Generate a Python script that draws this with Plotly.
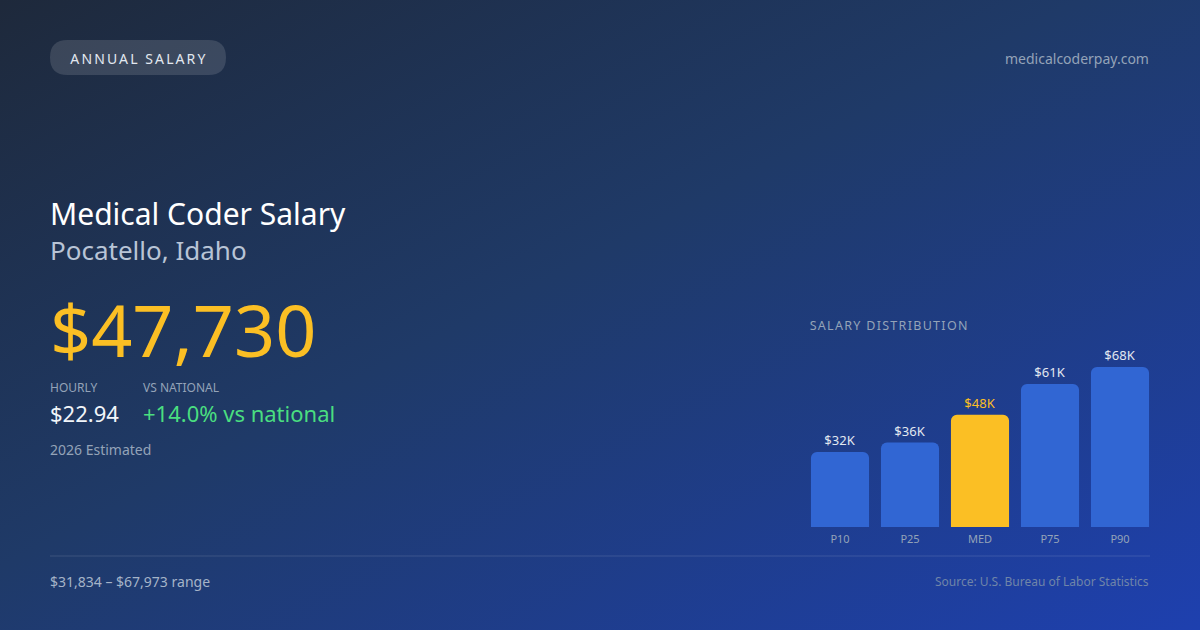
import urllib.parse
import plotly.graph_objects as go

W, H = 1200, 630
FONT = "Noto Sans"

percentiles = ["P10", "P25", "MED", "P75", "P90"]
salaries = [31834, 35900, 47730, 60800, 67973]
median_annual = 47730
hourly_wage = 22.94
vs_national_pct = 14.0
occupation = "Medical Coder Salary"
location = "Pocatello, Idaho"
year_label = "2026 Estimated"
site = "medicalcoderpay.com"
source = "Source: U.S. Bureau of Labor Statistics"

BAR_BLUE = "#3166d3"
GOLD = "#fbbf24"


def px(x):
    return x / W


def py(y):
    return 1 - y / H


bar_colors = [GOLD if p == "MED" else BAR_BLUE for p in percentiles]
label_colors = [GOLD if p == "MED" else "#e2e8f0" for p in percentiles]
bar_text = [f"${v / 1000:.0f}K" for v in salaries]

fig = go.Figure()
fig.add_trace(go.Bar(
    x=percentiles,
    y=salaries,
    marker=dict(color=bar_colors, line=dict(width=0), cornerradius=6),
    text=bar_text,
    textposition="outside",
    textfont=dict(family=FONT, size=13, color=label_colors),
    cliponaxis=False,
    hoverinfo="skip",
))

# background gradient as an svg image
grad_svg = (
    "<svg xmlns='http://www.w3.org/2000/svg' width='1200' height='630' preserveAspectRatio='none'>"
    "<defs><linearGradient id='g' x1='0' y1='0' x2='1' y2='1'>"
    "<stop offset='0' stop-color='#1e293b'/>"
    "<stop offset='0.45' stop-color='#1f3a68'/>"
    "<stop offset='1' stop-color='#1e40af'/>"
    "</linearGradient></defs>"
    "<rect width='1200' height='630' fill='url(#g)'/></svg>"
)
grad_uri = "data:image/svg+xml;charset=utf-8," + urllib.parse.quote(grad_svg)


def pill_path(x0, y0, x1, y1):
    r = (y1 - y0) / 2
    pts = [
        f"M {px(x0 + r)},{py(y0)}",
        f"L {px(x1 - r)},{py(y0)}",
        f"Q {px(x1)},{py(y0)} {px(x1)},{py(y0 + r)}",
        f"Q {px(x1)},{py(y1)} {px(x1 - r)},{py(y1)}",
        f"L {px(x0 + r)},{py(y1)}",
        f"Q {px(x0)},{py(y1)} {px(x0)},{py(y0 + r)}",
        f"Q {px(x0)},{py(y0)} {px(x0 + r)},{py(y0)}",
        "Z",
    ]
    return " ".join(pts)


shapes = [
    dict(type="path", xref="paper", yref="paper", path=pill_path(50, 40, 226, 75),
         fillcolor="rgba(255,255,255,0.13)", line=dict(width=0), layer="below"),
    dict(type="line", xref="paper", yref="paper", x0=px(50), x1=px(1150), y0=py(556), y1=py(556),
         line=dict(color="rgba(255,255,255,0.13)", width=1)),
]


def txt(x, y, s, size, color, anchor="left"):
    # annotation boxes carry ~2px of padding, nudge so the glyphs land on x
    x = x - 2 if anchor == "left" else (x + 2 if anchor == "right" else x)
    return dict(xref="paper", yref="paper", x=px(x), y=py(y), text=s, showarrow=False,
                xanchor=anchor, yanchor="middle", font=dict(family=FONT, size=size, color=color))


# the two letter-spaced labels grow both ways from their centre, so they sit a bit right
annotations = [
    txt(84, 58, "ANNUAL SALARY", 14, "#e2e8f0"),
    txt(1149, 58, site, 14, "#94a3b8", "right"),
    txt(50, 213, occupation, 30, "#ffffff"),
    txt(50, 250, location, 26, "#b8c4d6"),
    txt(50, 329, f"${median_annual:,}", 72, GOLD),
    txt(50, 387, "HOURLY", 12, "#94a3b8"),
    txt(143, 387, "VS NATIONAL", 12, "#94a3b8"),
    txt(50, 413, f"${hourly_wage:.2f}", 22, "#f1f5f9"),
    txt(143, 413, f"+{vs_national_pct:.1f}% vs national", 22, "#4ade80"),
    txt(50, 449, year_label, 14, "#94a3b8"),
    txt(822, 325, "SALARY DISTRIBUTION", 12.5, "#94a3b8"),
    txt(50, 581, f"${min(salaries):,} – ${max(salaries):,} range", 14, "#a5b4c8"),
    txt(1149, 581, source, 12, "#7085a8", "right"),
]

fig.update_layout(
    width=W, height=H,
    margin=dict(l=0, r=0, t=0, b=0),
    paper_bgcolor="#1e293b",
    plot_bgcolor="rgba(0,0,0,0)",
    showlegend=False,
    bargap=0.17,
    images=[dict(source=grad_uri, xref="paper", yref="paper", x=0, y=1, sizex=1, sizey=1,
                 xanchor="left", yanchor="top", sizing="stretch", layer="below")],
    shapes=shapes,
    annotations=annotations,
    xaxis=dict(domain=[px(805), px(1155)], showgrid=False, zeroline=False, showline=False,
               ticks="", tickfont=dict(family=FONT, size=11, color="#94a3b8"),
               ticklabelstandoff=4, fixedrange=True),
    yaxis=dict(domain=[py(527), py(347)], range=[0, 67973 * 180 / 160], visible=False,
               fixedrange=True),
)

# drop the page's default body margin, and letter-space the two small caps labels
post = """
document.body.style.margin='0';
document.body.style.overflow='hidden';
document.querySelectorAll('text.annotation-text').forEach(function(t){
  if (t.textContent === 'ANNUAL SALARY') { t.style.letterSpacing = '2.1px'; }
  if (t.textContent === 'SALARY DISTRIBUTION') { t.style.letterSpacing = '1.3px'; }
});
"""
fig.write_html("out.html", config={"displayModeBar": False}, post_script=post)
